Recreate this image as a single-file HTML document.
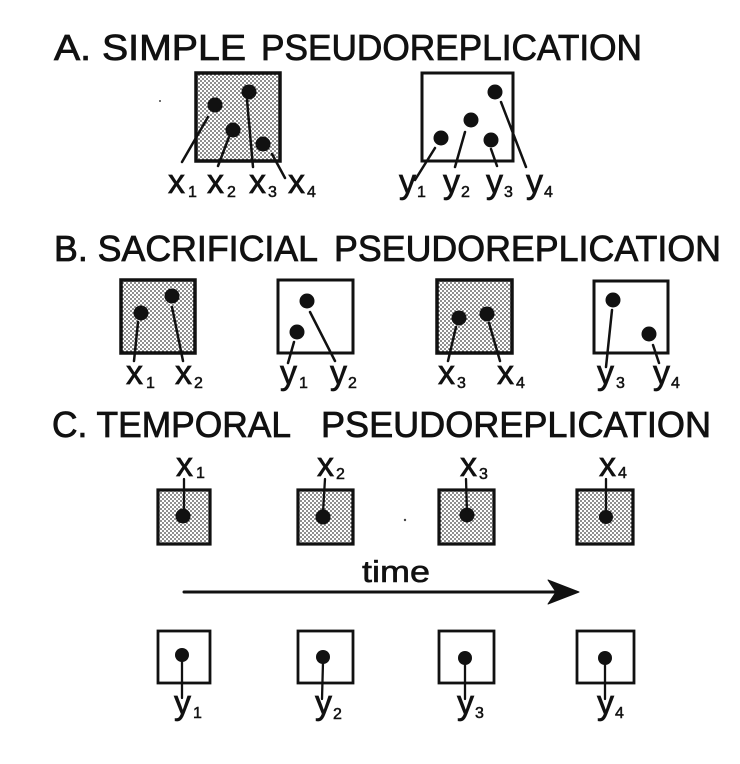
<!DOCTYPE html>
<html><head><meta charset="utf-8"><style>
html,body{margin:0;padding:0;background:#fff;}
svg{display:block;}
text{font-family:"Liberation Sans",Arial,sans-serif;fill:#111;}
.t{font-size:36px;stroke:#111;stroke-width:0.8;}
.l{font-size:34px;stroke:#111;stroke-width:0.7;}
.s{font-size:16px;stroke-width:0.5;}
</style></head><body>
<svg width="740" height="764" viewBox="0 0 740 764" xmlns="http://www.w3.org/2000/svg">
<defs>
<pattern id="st" width="4" height="4" patternUnits="userSpaceOnUse">
<rect width="4" height="4" fill="#fff"/>
<circle cx="1" cy="1" r="0.85" fill="#333"/>
<circle cx="3" cy="3" r="0.85" fill="#333"/>
</pattern>
</defs>
<g stroke="#111" fill="none" stroke-linecap="round">

<!-- Titles -->
<text class="t" x="54" y="60" textLength="192" lengthAdjust="spacingAndGlyphs">A. SIMPLE</text>
<text class="t" x="261" y="60" textLength="381" lengthAdjust="spacingAndGlyphs">PSEUDOREPLICATION</text>
<text class="t" x="54" y="261" textLength="264" lengthAdjust="spacingAndGlyphs">B. SACRIFICIAL</text>
<text class="t" x="334" y="261" textLength="387" lengthAdjust="spacingAndGlyphs">PSEUDOREPLICATION</text>
<text class="t" x="52" y="437" textLength="239" lengthAdjust="spacingAndGlyphs">C. TEMPORAL</text>
<text class="t" x="321" y="437" textLength="390" lengthAdjust="spacingAndGlyphs">PSEUDOREPLICATION</text>

<!-- Section A -->
<rect x="196" y="73" width="84" height="88" fill="url(#st)" stroke-width="3.5"/>
<rect x="422" y="73" width="91" height="88" fill="#fff" stroke-width="3"/>
<g fill="#111" stroke="none">
<circle cx="215" cy="105" r="7.5"/><circle cx="233" cy="130" r="7.5"/>
<circle cx="249" cy="92" r="7.5"/><circle cx="263" cy="144" r="7.5"/>
<circle cx="441" cy="138" r="7.5"/><circle cx="471" cy="120" r="7.5"/>
<circle cx="491" cy="140" r="7.5"/><circle cx="495" cy="92" r="7.5"/>
</g>
<g stroke-width="2.5">
<line x1="208" y1="117" x2="182" y2="162"/>
<line x1="229" y1="137" x2="218" y2="166"/>
<line x1="247" y1="100" x2="253" y2="167"/>
<line x1="272" y1="154" x2="285" y2="178"/>
<line x1="435" y1="148" x2="415" y2="180"/>
<line x1="465" y1="132" x2="455" y2="167"/>
<line x1="491" y1="149" x2="497" y2="166"/>
<line x1="501" y1="102" x2="526" y2="167"/>
</g>
<text class="l" x="168" y="193">x<tspan class="s" dx="3" dy="4">1</tspan></text>
<text class="l" x="207" y="193">x<tspan class="s" dx="3" dy="4">2</tspan></text>
<text class="l" x="249" y="193">x<tspan class="s" dx="2" dy="4">3</tspan></text>
<text class="l" x="288" y="193">x<tspan class="s" dx="2" dy="4">4</tspan></text>
<text class="l" x="399" y="193">y<tspan class="s" dx="1" dy="4">1</tspan></text>
<text class="l" x="443" y="193">y<tspan class="s" dx="1" dy="4">2</tspan></text>
<text class="l" x="486" y="193">y<tspan class="s" dx="1" dy="4">3</tspan></text>
<text class="l" x="526" y="193">y<tspan class="s" dx="1" dy="4">4</tspan></text>

<!-- Section B -->
<rect x="121" y="280" width="74" height="73" fill="url(#st)" stroke-width="3.5"/>
<rect x="278" y="280" width="75" height="73" fill="#fff" stroke-width="3"/>
<rect x="437" y="280" width="75" height="73" fill="url(#st)" stroke-width="3.5"/>
<rect x="594" y="281" width="74" height="72" fill="#fff" stroke-width="3"/>
<g fill="#111" stroke="none">
<circle cx="141" cy="313" r="7.5"/><circle cx="172" cy="296" r="7.5"/>
<circle cx="307" cy="301" r="7.5"/><circle cx="297" cy="332" r="7.5"/>
<circle cx="459" cy="318" r="7.5"/><circle cx="487" cy="314" r="7.5"/>
<circle cx="613" cy="300" r="7.5"/><circle cx="649" cy="334" r="7.5"/>
</g>
<g stroke-width="2.5">
<line x1="138" y1="322" x2="134" y2="361"/>
<line x1="172" y1="307" x2="183" y2="361"/>
<line x1="294" y1="342" x2="288" y2="363"/>
<line x1="310" y1="312" x2="335" y2="361"/>
<line x1="456" y1="327" x2="448" y2="361"/>
<line x1="489" y1="323" x2="500" y2="361"/>
<line x1="612" y1="310" x2="606" y2="367"/>
<line x1="653" y1="345" x2="659" y2="363"/>
</g>
<text class="l" x="126" y="384">x<tspan class="s" dx="3" dy="4">1</tspan></text>
<text class="l" x="175" y="384">x<tspan class="s" dx="2" dy="4">2</tspan></text>
<text class="l" x="280" y="384">y<tspan class="s" dx="2" dy="4">1</tspan></text>
<text class="l" x="330" y="384">y<tspan class="s" dx="1" dy="4">2</tspan></text>
<text class="l" x="438" y="384">x<tspan class="s" dx="2" dy="4">3</tspan></text>
<text class="l" x="497" y="384">x<tspan class="s" dx="2" dy="4">4</tspan></text>
<text class="l" x="597" y="384">y<tspan class="s" dx="2" dy="4">3</tspan></text>
<text class="l" x="653" y="384">y<tspan class="s" dx="1" dy="4">4</tspan></text>

<!-- Section C top -->
<rect x="158" y="490" width="52" height="54" fill="url(#st)" stroke-width="3.2"/>
<rect x="298" y="490" width="55" height="54" fill="url(#st)" stroke-width="3.2"/>
<rect x="439" y="490" width="55" height="54" fill="url(#st)" stroke-width="3.2"/>
<rect x="577" y="490" width="56" height="54" fill="url(#st)" stroke-width="3.2"/>
<g fill="#111" stroke="none">
<circle cx="183" cy="516" r="7.5"/><circle cx="323" cy="517" r="7.5"/>
<circle cx="467" cy="515" r="7.5"/><circle cx="606" cy="517" r="7"/>
</g>
<g stroke-width="2.3">
<line x1="184" y1="479" x2="184" y2="512"/>
<line x1="325" y1="479" x2="323" y2="512"/>
<line x1="466" y1="479" x2="467" y2="512"/>
<line x1="606" y1="479" x2="606" y2="512"/>
</g>
<text class="l" x="176" y="476">x<tspan class="s" dx="3" dy="2">1</tspan></text>
<text class="l" x="317" y="476">x<tspan class="s" dx="2" dy="3">2</tspan></text>
<text class="l" x="460" y="476">x<tspan class="s" dx="2" dy="3">3</tspan></text>
<text class="l" x="599" y="476">x<tspan class="s" dx="2" dy="2">4</tspan></text>

<!-- time arrow -->
<line x1="184" y1="592" x2="556" y2="592" stroke-width="3"/>
<polygon points="579,592 548,580 556,592 548,604" fill="#111" stroke="#111" stroke-width="1" stroke-linejoin="round"/>
<text x="362" y="582" font-size="31" textLength="68" lengthAdjust="spacingAndGlyphs" stroke="#111" stroke-width="0.6">time</text>
<circle cx="405" cy="520" r="1.2" fill="#444" stroke="none"/>
<circle cx="160" cy="101" r="1" fill="#444" stroke="none"/>

<!-- Section C bottom -->
<rect x="158" y="631" width="52" height="52" fill="#fff" stroke-width="2.8"/>
<rect x="298" y="631" width="55" height="52" fill="#fff" stroke-width="2.8"/>
<rect x="439" y="631" width="55" height="52" fill="#fff" stroke-width="2.8"/>
<rect x="577" y="631" width="57" height="52" fill="#fff" stroke-width="2.8"/>
<g fill="#111" stroke="none">
<circle cx="182" cy="655" r="7"/><circle cx="323" cy="657" r="7"/>
<circle cx="465" cy="658" r="7"/><circle cx="605" cy="658" r="7"/>
</g>
<g stroke-width="2.3">
<line x1="182" y1="660" x2="182" y2="698"/>
<line x1="323" y1="662" x2="322" y2="699"/>
<line x1="465" y1="663" x2="465" y2="699"/>
<line x1="605" y1="663" x2="605" y2="699"/>
</g>
<text class="l" x="174" y="714">y<tspan class="s" dx="2" dy="4">1</tspan></text>
<text class="l" x="315" y="714">y<tspan class="s" dx="1" dy="5">2</tspan></text>
<text class="l" x="457" y="714">y<tspan class="s" dx="1" dy="4">3</tspan></text>
<text class="l" x="597" y="714">y<tspan class="s" dx="1" dy="4">4</tspan></text>
</g>
</svg>
</body></html>
